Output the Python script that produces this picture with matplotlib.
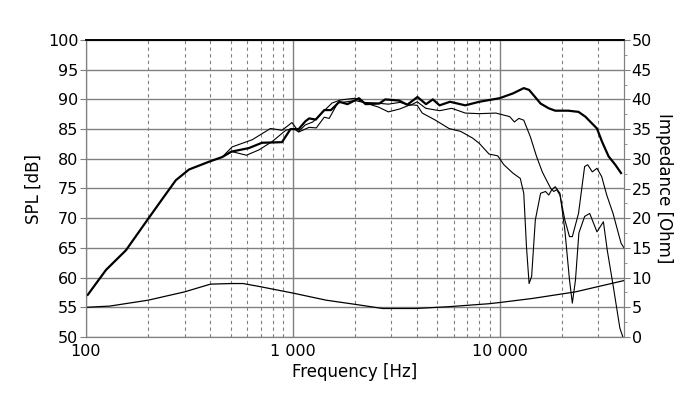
import matplotlib
matplotlib.use("Agg")
import matplotlib.pyplot as plt
from matplotlib.ticker import FixedLocator, NullFormatter, MultipleLocator

# ---- data ----
freq_main = [100, 102, 125, 156, 198, 238, 272, 315, 393, 456, 504, 613, 710, 887, 975,
             1068, 1150, 1200, 1292, 1420, 1530, 1680, 1840, 2090, 2250, 2620, 2800, 3270,
             3580, 4010, 4410, 4760, 5130, 5760, 6830, 7980, 10000, 11600, 13100, 13900,
             15800, 17300, 18600, 21500, 24100, 26000, 29600, 31300, 33700, 36300, 38700]
spl_main = [57.0, 57.1, 61.3, 64.6, 69.7, 73.6, 76.4, 78.2, 79.5, 80.3, 81.2, 81.8, 82.7, 82.8, 85.0,
            85.0, 86.3, 86.8, 86.6, 88.2, 88.2, 89.6, 89.2, 90.2, 89.2, 89.3, 90.0, 89.8,
            89.1, 90.4, 89.2, 90.0, 89.0, 89.6, 89.0, 89.6, 90.2, 91.0, 91.9, 91.6,
            89.3, 88.5, 88.1, 88.1, 87.9, 87.1, 85.1, 82.9, 80.4, 79.0, 77.6]

freq_30 = [456, 509, 636, 780, 887, 991, 1068, 1150, 1250, 1400, 1550, 1700, 2000, 2200,
           2500, 2900, 3300, 3700, 4000, 4400, 5130, 5870, 6830, 7980, 9600, 11200, 11800,
           12400, 13100, 14100, 15100, 16100, 16700, 17700, 18300, 18900, 19600, 20700, 21800,
           22500, 24100, 25800, 26700, 28100, 29600, 31200, 33000, 35400, 38700, 40000]
spl_30 = [80.3, 82.0, 83.2, 85.1, 84.8, 86.1, 84.6, 85.7, 86.2, 87.9, 89.4, 89.9, 90.2, 89.5,
          89.4, 89.2, 89.5, 89.0, 89.6, 88.5, 88.1, 88.5, 87.7, 87.6, 87.7, 87.1, 86.2,
          86.8, 86.5, 83.7, 80.4, 77.8, 76.7, 75.0, 74.5, 74.8, 73.9, 69.7, 66.9,
          66.9, 70.8, 78.7, 79.0, 77.8, 78.4, 77.0, 73.9, 70.8, 65.8, 65.0]

freq_60 = [456, 509, 597, 686, 795, 925, 1010, 1068, 1200, 1300, 1420, 1500, 1650, 2000,
           2200, 2600, 2900, 3300, 3700, 4000, 4230, 4900, 5700, 6500, 7400, 7980, 8900,
           9800, 10500, 11600, 12600, 13100, 13500, 13900, 14300, 14900, 15800, 16700, 17300,
           17900, 18600, 19600, 20700, 21800, 22500, 23300, 24200, 25800, 27300, 29600, 31800,
           33200, 35500, 38200, 39500]
spl_60 = [80.3, 81.2, 80.6, 81.5, 82.9, 84.8, 85.1, 84.5, 85.3, 85.2, 87.0, 86.8, 89.4, 89.8,
          89.5, 88.7, 87.9, 88.4, 89.1, 89.0, 87.7, 86.5, 85.1, 84.6, 83.5, 82.6, 80.8,
          80.5, 79.0, 77.6, 76.7, 74.2, 65.2, 59.0, 60.2, 69.7, 74.2, 74.5, 73.9,
          74.8, 75.3, 74.2, 68.0, 59.6, 55.7, 59.6, 67.5, 70.3, 70.8, 67.7, 69.4,
          64.6, 58.5, 51.5, 50.0]

freq_imp = [100, 130, 200, 300, 400, 505, 575, 690, 1000, 1450, 2000, 2720, 3940, 5670,
            8870, 10000, 14500, 23300, 40000]
imp_ohm = [5.0, 5.2, 6.2, 7.6, 8.9, 9.0, 9.0, 8.5, 7.4, 6.2, 5.5, 4.8, 4.8, 5.1,
           5.6, 5.8, 6.5, 7.6, 9.5]

x_ticks = [100, 1000, 10000]
x_tick_labels = ["100", "1 000", "10 000"]

# ---- figure ----
fig = plt.figure(figsize=(7.0, 3.99), dpi=100)
ax = fig.add_axes([86/700, 1-337/399, (624-86)/700, (337-40)/399])
ax2 = ax.twinx()

grey = "#808080"
ax.set_xscale("log")
ax.set_xlim(100, 40000)
ax.set_ylim(50, 100)
ax2.set_ylim(0, 50)

ax.xaxis.set_major_locator(FixedLocator(x_ticks))
ax.set_xticklabels(x_tick_labels)
minors = [m * d for d in (100, 1000, 10000) for m in range(2, 10) if m * d < 40000]
ax.xaxis.set_minor_locator(FixedLocator(minors))
ax.xaxis.set_minor_formatter(NullFormatter())
ax.yaxis.set_major_locator(MultipleLocator(5))
ax2.yaxis.set_major_locator(MultipleLocator(5))
ax2.yaxis.set_minor_locator(MultipleLocator(2.5))

ax.grid(True, which="major", color=grey, lw=1.0, ls="-")
ax.grid(True, which="minor", axis="x", color=grey, lw=0.8, ls=(0, (3, 3)))
ax.set_axisbelow(True)

for s in ("left", "bottom", "right"):
    ax.spines[s].set_color(grey)
    ax2.spines[s].set_color(grey)
ax.spines["top"].set_color("black")
ax2.spines["top"].set_color("black")
ax.spines["top"].set_linewidth(1.2)
ax2.spines["top"].set_linewidth(1.2)

tick_fs = 11.5
ax.tick_params(axis="y", which="major", length=4, color=grey, labelsize=tick_fs, pad=1.5)
ax.tick_params(axis="x", which="both", length=0, labelsize=tick_fs, pad=5)
ax2.tick_params(axis="y", which="major", length=4, color=grey, labelsize=tick_fs, pad=1.5)
ax2.tick_params(axis="y", which="minor", length=2, color=grey)

ax.plot(freq_60, spl_60, color="black", lw=0.8)
ax.plot(freq_30, spl_30, color="black", lw=0.8)
ax.plot(freq_main, spl_main, color="black", lw=1.6)
ax2.plot(freq_imp, imp_ohm, color="black", lw=0.9)

ax.set_xlabel("Frequency [Hz]", fontsize=12, labelpad=3)
ax.set_ylabel("SPL [dB]", fontsize=12, labelpad=4)
ax2.set_ylabel("Impedance [Ohm]", fontsize=12, rotation=-90, labelpad=15)

fig.savefig("out.png", dpi=100)
